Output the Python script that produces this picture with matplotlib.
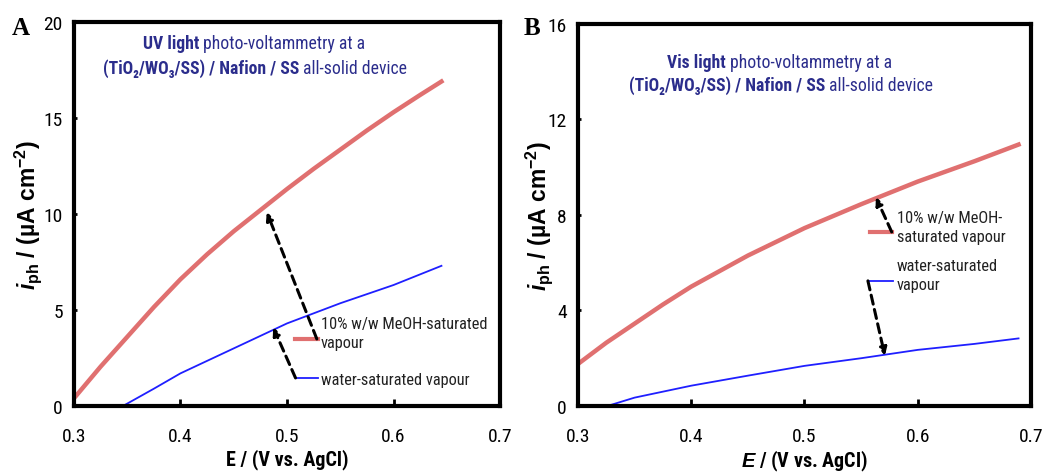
"""Photo-voltammetry of a (TiO2/WO3/SS) / Nafion / SS all-solid device, UV and Vis light."""

import matplotlib
matplotlib.use("Agg")
import matplotlib.pyplot as plt
from matplotlib.offsetbox import AnnotationBbox, HPacker, TextArea

# --- data ----------------------------------------------------------------
uv_meoh_E = [0.300, 0.325, 0.350, 0.375, 0.400, 0.425, 0.450, 0.475, 0.500,
             0.525, 0.550, 0.575, 0.600, 0.625, 0.645]
uv_meoh_i = [0.4, 2.05, 3.6, 5.15, 6.6, 7.9, 9.1, 10.2, 11.3,
             12.35, 13.35, 14.35, 15.3, 16.2, 16.9]
uv_water_E = [0.346, 0.375, 0.400, 0.450, 0.500, 0.550, 0.600, 0.645]
uv_water_i = [0.0, 0.9, 1.7, 3.0, 4.3, 5.35, 6.3, 7.3]

vis_meoh_E = [0.300, 0.325, 0.350, 0.375, 0.400, 0.450, 0.500, 0.550, 0.600, 0.650, 0.689]
vis_meoh_i = [1.76, 2.65, 3.45, 4.25, 5.0, 6.3, 7.45, 8.45, 9.4, 10.25, 10.95]
vis_water_E = [0.326, 0.350, 0.400, 0.450, 0.500, 0.550, 0.600, 0.650, 0.689]
vis_water_i = [0.0, 0.35, 0.85, 1.27, 1.68, 2.0, 2.35, 2.6, 2.83]

x_ticks = [0.3, 0.4, 0.5, 0.6, 0.7]
uv_y_ticks = [0, 5, 10, 15, 20]
vis_y_ticks = [0, 4, 8, 12, 16]

meoh_label_uv = "10% w/w MeOH-saturated\nvapour"
water_label_uv = "water-saturated vapour"
meoh_label_vis = "10% w/w MeOH-\nsaturated vapour"
water_label_vis = "water-saturated\nvapour"
# ------------------------------------------------------------------------

RED = "#e07070"
BLUE = "#1f1fff"
NAVY = "#2b2d8c"
TXT = "#222222"
SANS = ["Roboto Condensed", "DejaVu Sans"]
WIDE = ["Liberation Sans", "DejaVu Sans"]
SERIF = ["Liberation Serif", "DejaVu Serif"]

plt.rcParams["font.family"] = SANS
plt.rcParams["mathtext.fontset"] = "custom"
plt.rcParams["mathtext.rm"] = "Liberation Sans:bold"
plt.rcParams["mathtext.bf"] = "Liberation Sans:bold"
plt.rcParams["mathtext.it"] = "Liberation Sans:bold:italic"
plt.rcParams["mathtext.default"] = "rm"

YLABEL = r"$\mathit{i}_{\mathrm{ph}}$ / (µA cm$^{-2}$)"

fig = plt.figure(figsize=(10.45, 4.77), dpi=100)
ax_a = fig.add_axes([0.0708, 0.1468, 0.4077, 0.805])
ax_b = fig.add_axes([0.5531, 0.1468, 0.4335, 0.8008])


def style_axes(ax, yticks):
    ax.set_xlim(0.3, 0.7)
    ax.set_ylim(yticks[0], yticks[-1])
    ax.set_xticks(x_ticks)
    ax.set_xticklabels([f"{t:.1f}" for t in x_ticks])
    ax.set_yticks(yticks)
    for s in ax.spines.values():
        s.set_linewidth(3)
    ax.tick_params(axis="x", direction="in", length=5, width=2, pad=15, labelsize=14)
    ax.tick_params(axis="y", direction="in", length=2.5, width=2, pad=8, labelsize=14)
    ax.tick_params(top=False, right=False)


def arrow(ax, start, tip):
    ax.annotate("", xy=tip, xytext=start,
                arrowprops=dict(arrowstyle="-|>,head_length=0.45,head_width=0.22",
                                ls=(0, (3, 1.8)), lw=2.2, color="k",
                                shrinkA=0, shrinkB=0))


def title(fig, x, y, parts):
    boxes = [TextArea(s, textprops=dict(color=NAVY, fontsize=12.7, family=SANS,
                                        fontweight="bold" if b else "normal"))
             for s, b in parts]
    pack = HPacker(children=boxes, align="baseline", pad=0, sep=0)
    ab = AnnotationBbox(pack, (x, 477 - y), xycoords="figure pixels",
                        box_alignment=(0, 0), frameon=False, pad=0)
    fig.add_artist(ab)


# Panel A: UV light
style_axes(ax_a, uv_y_ticks)
ax_a.plot(uv_meoh_E, uv_meoh_i, color=RED, lw=3.2)
ax_a.plot(uv_water_E, uv_water_i, color=BLUE, lw=1.3)
ax_a.plot([0.5075, 0.529], [3.49, 3.49], color=RED, lw=3)
ax_a.plot([0.5085, 0.529], [1.46, 1.46], color=BLUE, lw=1.3)
ax_a.text(0.532, 3.07, meoh_label_uv, fontsize=11.8, color=TXT, va="baseline", linespacing=1.35)
ax_a.text(0.532, 1.15, water_label_uv, fontsize=11.8, color=TXT, va="baseline")
arrow(ax_a, (0.528, 3.49), (0.481, 10.1))
arrow(ax_a, (0.508, 1.46), (0.487, 4.1))
ax_a.set_xlabel("E / (V vs. AgCl)", fontsize=14.5, fontweight="bold")
ax_a.set_ylabel(YLABEL, fontsize=16.5, fontweight="bold", family=WIDE)
ax_a.xaxis.set_label_coords(0.5, -0.11)
ax_a.yaxis.set_label_coords(-0.07, 0.5)

# Panel B: Vis light
style_axes(ax_b, vis_y_ticks)
ax_b.plot(vis_meoh_E, vis_meoh_i, color=RED, lw=3.2)
ax_b.plot(vis_water_E, vis_water_i, color=BLUE, lw=1.3)
ax_b.plot([0.5578, 0.5773], [7.29, 7.29], color=RED, lw=3)
ax_b.plot([0.5561, 0.5781], [5.24, 5.24], color=BLUE, lw=1.3)
ax_b.text(0.5817, 6.91, meoh_label_vis, fontsize=11.8, color=TXT, va="baseline", linespacing=1.35)
ax_b.text(0.5817, 4.90, water_label_vis, fontsize=11.8, color=TXT, va="baseline", linespacing=1.35)
arrow(ax_b, (0.577, 7.29), (0.563, 8.75))
arrow(ax_b, (0.556, 5.24), (0.571, 2.1))
ax_b.set_xlabel(r"$\mathit{E}$ / (V vs. AgCl)", fontsize=14.5, fontweight="bold")
ax_b.set_ylabel(YLABEL, fontsize=16.5, fontweight="bold", family=WIDE)
ax_b.xaxis.set_label_coords(0.5, -0.11)
ax_b.yaxis.set_label_coords(-0.05, 0.5)

# in-plot titles
title(fig, 143, 53, [("UV light", True), (" photo-voltammetry at a", False)])
title(fig, 103, 78, [("(TiO₂/WO₃/SS) / Nafion / SS", True), (" all-solid device", False)])
title(fig, 667, 72, [("Vis light", True), (" photo-voltammetry at a", False)])
title(fig, 629, 95, [("(TiO₂/WO₃/SS) / Nafion / SS", True), (" all-solid device", False)])

# panel letters
fig.text(12 / 1045, 1 - 35 / 477, "A", fontsize=18, fontweight="bold", family=SERIF, va="baseline")
fig.text(524 / 1045, 1 - 35 / 477, "B", fontsize=18, fontweight="bold", family=SERIF, va="baseline")

fig.savefig("out.png", dpi=100)
